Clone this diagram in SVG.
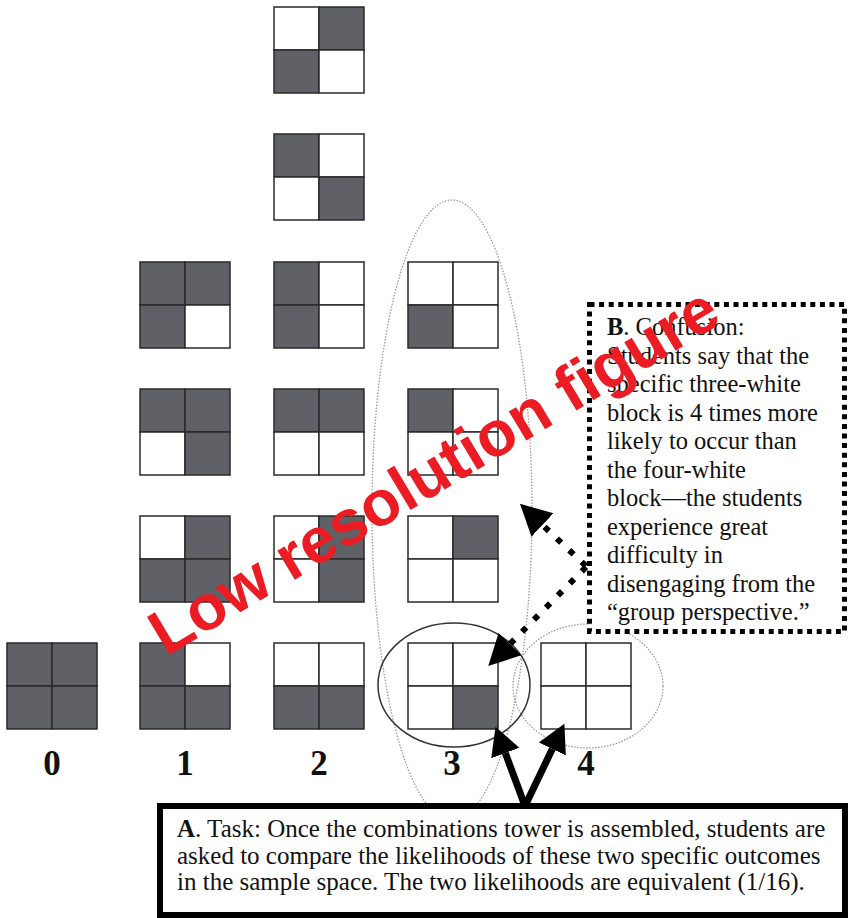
<svg xmlns="http://www.w3.org/2000/svg" width="848" height="918" viewBox="0 0 848 918">
<style>
.c{stroke:#2a2a2a;stroke-width:1.5}
.d{fill:#5f6166}
.w{fill:#ffffff}
.num{font-family:"Liberation Serif",serif;font-weight:bold;font-size:35px;fill:#111;text-anchor:middle}
.tx{font-family:"Liberation Serif",serif;fill:#111}
.gell{fill:none;stroke:#9a9a9a;stroke-width:1.3;stroke-dasharray:1.5 1.5}
</style>
<defs>
<marker id="ah" markerUnits="userSpaceOnUse" markerWidth="30" markerHeight="32" refX="0" refY="15" orient="auto" viewBox="0 0 30 30"><path d="M0,0 L28,15 L0,30 z" fill="#000"/></marker>
<marker id="ahd" markerUnits="userSpaceOnUse" markerWidth="32" markerHeight="34" refX="0" refY="16" orient="auto" viewBox="0 0 32 32"><path d="M0,0 L31,16 L0,32 z" fill="#000"/></marker>
</defs>
<rect width="848" height="918" fill="#fff"/>

<g id="ellipses">
<ellipse class="gell" cx="452" cy="510" rx="80" ry="310"/>
<ellipse class="gell" cx="588" cy="686" rx="75" ry="62"/>
<ellipse cx="454" cy="685" rx="76" ry="62" fill="none" stroke="#333" stroke-width="1.5"/>
</g>

<g id="blocks">
<g id="b0" transform="translate(7,643)"><rect class="c d" x="0" y="0" width="45" height="43"/><rect class="c d" x="45" y="0" width="45" height="43"/><rect class="c d" x="0" y="43" width="45" height="43"/><rect class="c d" x="45" y="43" width="45" height="43"/></g>

<g id="b1a" transform="translate(140,643)"><rect class="c d" x="0" y="0" width="45" height="43"/><rect class="c w" x="45" y="0" width="45" height="43"/><rect class="c d" x="0" y="43" width="45" height="43"/><rect class="c d" x="45" y="43" width="45" height="43"/></g>
<g id="b1b" transform="translate(140,516)"><rect class="c w" x="0" y="0" width="45" height="43"/><rect class="c d" x="45" y="0" width="45" height="43"/><rect class="c d" x="0" y="43" width="45" height="43"/><rect class="c d" x="45" y="43" width="45" height="43"/></g>
<g id="b1c" transform="translate(140,389)"><rect class="c d" x="0" y="0" width="45" height="43"/><rect class="c d" x="45" y="0" width="45" height="43"/><rect class="c w" x="0" y="43" width="45" height="43"/><rect class="c d" x="45" y="43" width="45" height="43"/></g>
<g id="b1d" transform="translate(140,262)"><rect class="c d" x="0" y="0" width="45" height="43"/><rect class="c d" x="45" y="0" width="45" height="43"/><rect class="c d" x="0" y="43" width="45" height="43"/><rect class="c w" x="45" y="43" width="45" height="43"/></g>

<g id="b2a" transform="translate(274,643)"><rect class="c w" x="0" y="0" width="45" height="43"/><rect class="c w" x="45" y="0" width="45" height="43"/><rect class="c d" x="0" y="43" width="45" height="43"/><rect class="c d" x="45" y="43" width="45" height="43"/></g>
<g id="b2b" transform="translate(274,516)"><rect class="c w" x="0" y="0" width="45" height="43"/><rect class="c d" x="45" y="0" width="45" height="43"/><rect class="c w" x="0" y="43" width="45" height="43"/><rect class="c d" x="45" y="43" width="45" height="43"/></g>
<g id="b2c" transform="translate(274,389)"><rect class="c d" x="0" y="0" width="45" height="43"/><rect class="c d" x="45" y="0" width="45" height="43"/><rect class="c w" x="0" y="43" width="45" height="43"/><rect class="c w" x="45" y="43" width="45" height="43"/></g>
<g id="b2d" transform="translate(274,262)"><rect class="c d" x="0" y="0" width="45" height="43"/><rect class="c w" x="45" y="0" width="45" height="43"/><rect class="c d" x="0" y="43" width="45" height="43"/><rect class="c w" x="45" y="43" width="45" height="43"/></g>
<g id="b2e" transform="translate(274,134)"><rect class="c d" x="0" y="0" width="45" height="43"/><rect class="c w" x="45" y="0" width="45" height="43"/><rect class="c w" x="0" y="43" width="45" height="43"/><rect class="c d" x="45" y="43" width="45" height="43"/></g>
<g id="b2f" transform="translate(274,7)"><rect class="c w" x="0" y="0" width="45" height="43"/><rect class="c d" x="45" y="0" width="45" height="43"/><rect class="c d" x="0" y="43" width="45" height="43"/><rect class="c w" x="45" y="43" width="45" height="43"/></g>

<g id="b3a" transform="translate(408,643)"><rect class="c w" x="0" y="0" width="45" height="43"/><rect class="c w" x="45" y="0" width="45" height="43"/><rect class="c w" x="0" y="43" width="45" height="43"/><rect class="c d" x="45" y="43" width="45" height="43"/></g>
<g id="b3b" transform="translate(408,516)"><rect class="c w" x="0" y="0" width="45" height="43"/><rect class="c d" x="45" y="0" width="45" height="43"/><rect class="c w" x="0" y="43" width="45" height="43"/><rect class="c w" x="45" y="43" width="45" height="43"/></g>
<g id="b3c" transform="translate(408,389)"><rect class="c d" x="0" y="0" width="45" height="43"/><rect class="c w" x="45" y="0" width="45" height="43"/><rect class="c w" x="0" y="43" width="45" height="43"/><rect class="c w" x="45" y="43" width="45" height="43"/></g>
<g id="b3d" transform="translate(408,262)"><rect class="c w" x="0" y="0" width="45" height="43"/><rect class="c w" x="45" y="0" width="45" height="43"/><rect class="c d" x="0" y="43" width="45" height="43"/><rect class="c w" x="45" y="43" width="45" height="43"/></g>

<g id="b4" transform="translate(541,643)"><rect class="c w" x="0" y="0" width="45" height="43"/><rect class="c w" x="45" y="0" width="45" height="43"/><rect class="c w" x="0" y="43" width="45" height="43"/><rect class="c w" x="45" y="43" width="45" height="43"/></g>
</g>

<g id="labels">
<text class="num" x="52" y="775">0</text>
<text class="num" x="185" y="775">1</text>
<text class="num" x="319" y="775">2</text>
<text class="num" x="452" y="775">3</text>
<text class="num" x="586" y="775">4</text>
</g>

<g id="boxB">
<rect x="589.5" y="304.5" width="255" height="327" fill="#fff" stroke="#000" stroke-width="5" stroke-dasharray="5 4.6"/>
<text class="tx" font-size="24.5">
<tspan x="607" y="335"><tspan font-weight="bold">B</tspan>. Confusion:</tspan>
<tspan x="607" y="363.5">Students say that the</tspan>
<tspan x="607" y="392">specific three-white</tspan>
<tspan x="607" y="420.5">block is 4 times more</tspan>
<tspan x="607" y="449">likely to occur than</tspan>
<tspan x="607" y="477.5">the four-white</tspan>
<tspan x="607" y="506">block—the students</tspan>
<tspan x="607" y="534.5">experience great</tspan>
<tspan x="607" y="563">difficulty in</tspan>
<tspan x="607" y="591.5">disengaging from the</tspan>
<tspan x="607" y="620">“group perspective.”</tspan>
</text>
</g>

<g id="boxA">
<rect x="160" y="806" width="685" height="109" fill="#fff" stroke="#000" stroke-width="6"/>
<text class="tx" font-size="25">
<tspan x="177" y="837"><tspan font-weight="bold">A</tspan>. Task: Once the combinations tower is assembled, students are</tspan>
<tspan x="177" y="863.5">asked to compare the likelihoods of these two specific outcomes</tspan>
<tspan x="177" y="890">in the sample space. The two likelihoods are equivalent (1/16).</tspan>
</text>
</g>

<g id="connectors">
<line x1="525" y1="806" x2="505.3" y2="753" stroke="#000" stroke-width="7" marker-end="url(#ah)"/>
<line x1="525" y1="806" x2="552.3" y2="749" stroke="#000" stroke-width="7" marker-end="url(#ah)"/>
<line x1="586" y1="566" x2="542.5" y2="525" stroke="#000" stroke-width="6" stroke-dasharray="6 11" marker-end="url(#ahd)"/>
<line x1="586" y1="567" x2="510" y2="644" stroke="#000" stroke-width="6" stroke-dasharray="6 11" marker-end="url(#ahd)"/>
</g>

<text x="166" y="657" transform="rotate(-31 166 657)" font-family="'Liberation Sans',Arial,sans-serif" font-weight="bold" font-size="64" fill="#ec1c24">Low resolution figure</text>
</svg>
